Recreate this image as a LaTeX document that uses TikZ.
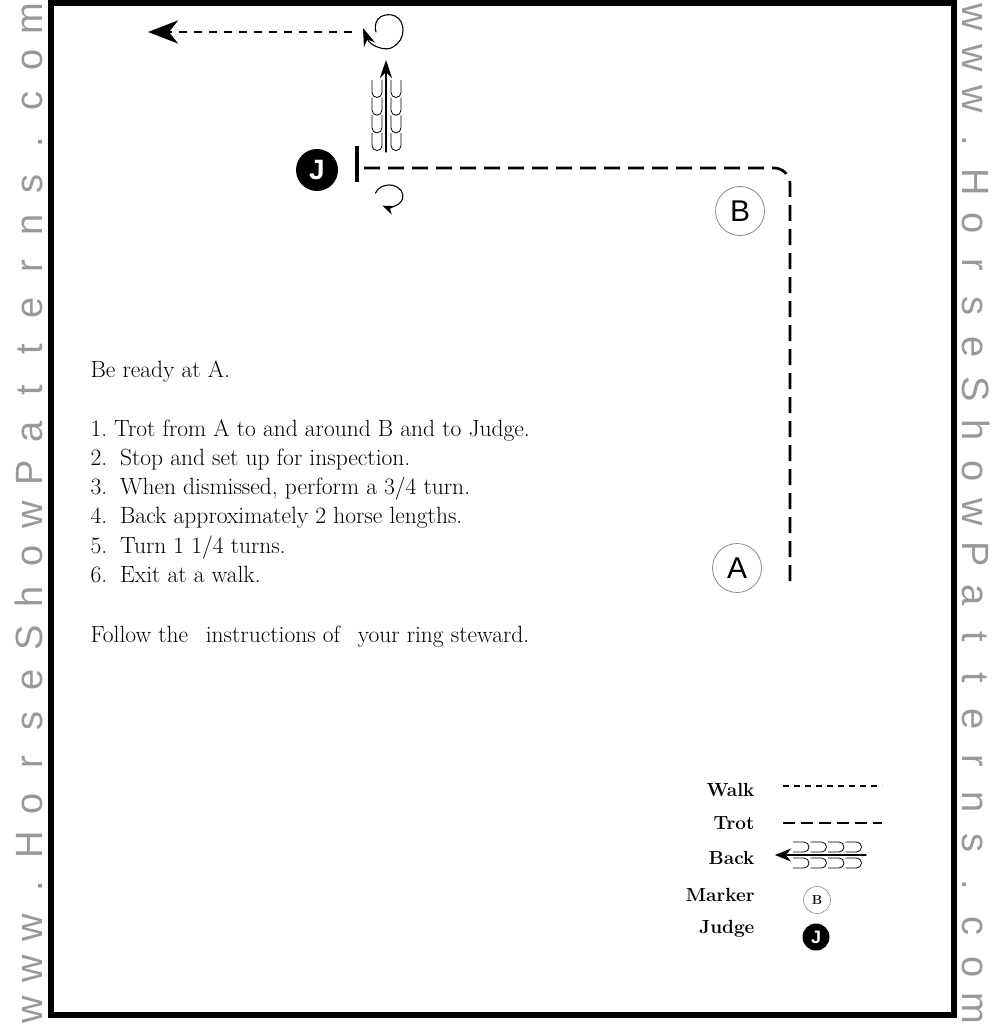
\documentclass[tikz,border=0pt]{standalone}
\usepackage{fontspec}
\usepackage{xcolor}
\usepackage{tikz}
\usetikzlibrary{arrows.meta}
\newfontfamily\wmfont{Liberation Sans}
\definecolor{ink}{HTML}{000000}
\definecolor{wmgray}{HTML}{999999}
\definecolor{ring}{HTML}{8A8A8A}
\tikzset{
  frame/.style={draw=ink, line width=6pt},
  trot/.style={draw=ink, line width=2.7pt, dash pattern=on 16pt off 8pt},
  walk/.style={draw=ink, line width=2.7pt, dash pattern=on 8pt off 7pt},
  turn/.style={draw=ink, line width=1.1pt, line cap=round},
  hoof/.style={draw=ink, line width=0.8pt},
  marker/.style={circle, draw=ring, line width=0.8pt, minimum size=49pt, inner sep=0pt,
    font=\wmfont\fontsize{30}{30}\selectfont},
  judge/.style={circle, fill=ink, minimum size=42pt, inner sep=0pt, text=white,
    font=\wmfont\bfseries\fontsize{28}{28}\selectfont},
  lab/.style={anchor=base west, font=\fontsize{23.5}{27}\selectfont},
  leg/.style={anchor=base east, font=\bfseries\fontsize{19}{22}\selectfont},
  wm/.style={text=wmgray, anchor=base, inner sep=0pt, font=\wmfont\fontsize{38}{38}\selectfont},
}

\begin{document}
\begin{tikzpicture}[x=1pt,y=-1pt]
  \useasboundingbox (0,0) rectangle (1001,1024);
  \fill[white] (0,0) rectangle (1001,1024);
  % watermark on both sides
  \foreach \ltr [count=\i from 0] in {w,w,w,.,H,o,r,s,e,S,h,o,w,P,a,t,t,e,r,n,s,.,c,o,m}{
    \node[wm,rotate=90] (wl\i) at (42,1010-41.3*\i) {\ltr};
    \node[wm,rotate=-90] (wr\i) at (962,17+41.3*\i) {\ltr};
  }
  \draw[frame] (51,3) rectangle (954,1015);

  % judge, markers
  \node[judge] (judge) at (317,170) {J};
  \coordinate (stopT) at (357,146);
  \coordinate (stopB) at (357,182);
  \draw[ink, line width=3.2pt] (stopT) -- (stopB);
  \node[marker] (B) at (740,211) {B};
  \node[marker] (A) at (737,568) {A};

  % trot from A around B to the judge
  \coordinate (startA) at (790,581);
  \coordinate (cornerB) at (790,168);
  \coordinate (stop) at (362,168);
  \draw[trot, rounded corners=16pt] (startA) -- (cornerB) -- (stop);

  % 3/4 turn
  \draw[turn, -{Stealth[length=12pt,width=9pt]}] (389,196) ++(195:14 and 11)
    arc[start angle=195, end angle=478, x radius=14, y radius=11];

  % back up
  \coordinate (backS) at (386,152);
  \coordinate (backE) at (386,60);
  \draw[turn, -{Stealth[length=18pt,width=12pt]}] (backS) -- (backE);
  \foreach \k in {0,...,3}{
    \draw[hoof] (372,80+17.7*\k) -- ++(0,12.5) arc[start angle=180, end angle=0, radius=5] -- ++(0,-12.5);
    \draw[hoof] (391,80+17.7*\k) -- ++(0,12.5) arc[start angle=180, end angle=0, radius=5] -- ++(0,-12.5);
  }

  % 1 1/4 turn, then walk out
  \draw[turn, -{Stealth[length=18pt,width=12pt]}] (376,32) .. controls (372,17) and (386,12) .. (395,16)
    .. controls (406,21) and (406,40) .. (393,47) .. controls (386,52) and (370,46) .. (363,28);
  \coordinate (walkS) at (352,32);
  \coordinate (exit) at (148,32);
  \draw[walk, -{Stealth[length=30pt,width=23pt,inset=9pt]}] (walkS) -- (exit);

  % instructions
  \node[lab] (ready) at (87,377) {Be ready at A.};
  \node[lab] (s1) at (87,436) {\oldstylenums{1}.\hspace{0.3em}Trot from A to and around B and to Judge.};
  \node[lab] (s2) at (87,465) {\oldstylenums{2}.\hspace{0.55em}Stop and set up for inspection.};
  \node[lab] (s3) at (87,494) {\oldstylenums{3}.\hspace{0.55em}When dismissed, perform a \oldstylenums{3}/\oldstylenums{4} turn.};
  \node[lab] (s4) at (87,523) {\oldstylenums{4}.\hspace{0.55em}Back approximately \oldstylenums{2} horse lengths.};
  \node[lab] (s5) at (87,553) {\oldstylenums{5}.\hspace{0.55em}Turn \oldstylenums{1} \oldstylenums{1}/\oldstylenums{4} turns.};
  \node[lab] (s6) at (87,582) {\oldstylenums{6}.\hspace{0.55em}Exit at a walk.};
  \node[lab] (steward) at (87,642) {Follow the\hspace{0.75em}instructions of\hspace{0.75em}your ring steward.};

  % legend
  \node[leg] (lwalk) at (758,796) {Walk};
  \node[leg] (ltrot) at (758,829) {Trot};
  \node[leg] (lback) at (758,864) {Back};
  \node[leg] (lmark) at (758,901) {Marker};
  \node[leg] (ljudge) at (758,933) {Judge};
  \draw[ink, line width=2pt, dash pattern=on 6pt off 5pt] (783,786) -- (882,786);
  \draw[ink, line width=2.3pt, dash pattern=on 12pt off 6pt] (783,823) -- (882,823);
  \coordinate (legBS) at (866,855);
  \coordinate (legBE) at (775,855);
  \draw[turn, line width=1.3pt, -{Stealth[length=16pt,width=13pt]}] (legBS) -- (legBE);
  \foreach \k in {0,...,3}{
    \draw[hoof] (793+17.5*\k,842) -- ++(11,0) arc[start angle=-90, end angle=90, radius=5] -- ++(-11,0);
    \draw[hoof] (793+17.5*\k,858) -- ++(11,0) arc[start angle=-90, end angle=90, radius=5] -- ++(-11,0);
  }
  \node[circle, draw=ring, line width=0.6pt, minimum size=27pt, inner sep=0pt,
    font=\bfseries\fontsize{13}{13}\selectfont] (legB) at (817,900) {B};
  \node[judge, minimum size=27pt, font=\wmfont\bfseries\fontsize{18}{18}\selectfont] (legJ) at (816,937) {J};
\end{tikzpicture}
\end{document}
